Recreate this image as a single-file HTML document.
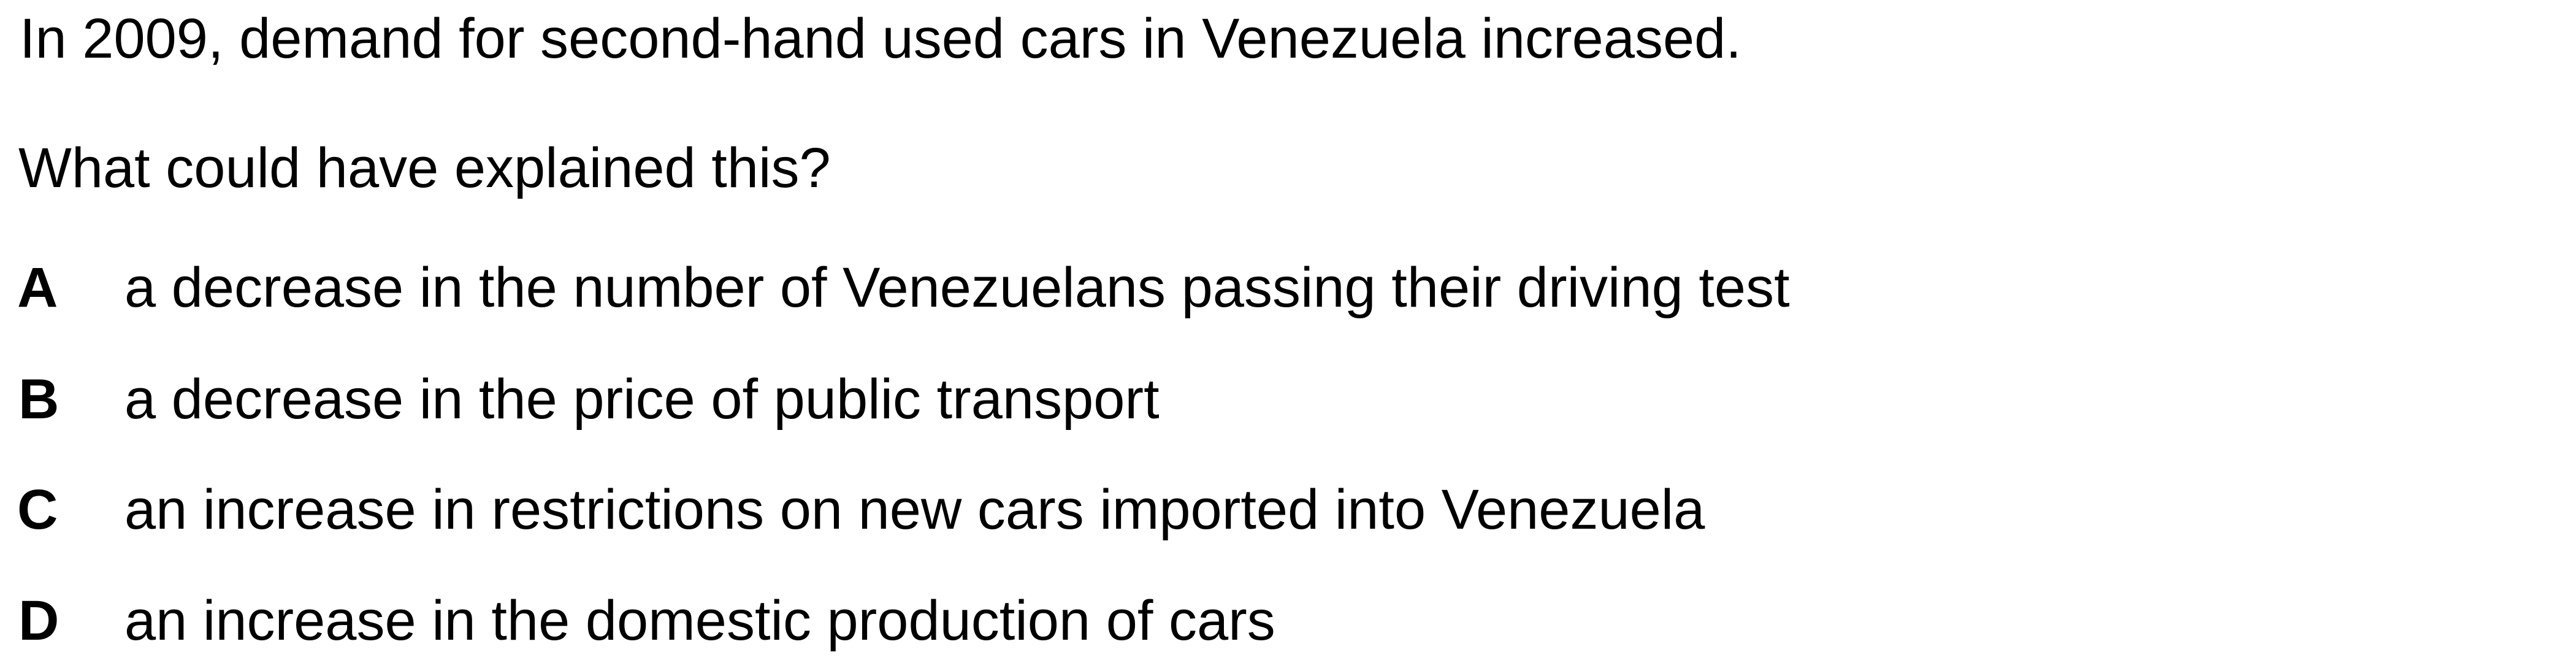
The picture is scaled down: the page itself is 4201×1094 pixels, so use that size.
<!DOCTYPE html>
<html>
<head>
<meta charset="utf-8">
<style>
html,body{margin:0;padding:0;background:#fff;}
body{width:4201px;height:1089px;overflow:hidden;}
svg text{font-family:"Liberation Sans",Arial,sans-serif;font-size:92px;fill:#000;}
.b{font-weight:bold;}
</style>
</head>
<body>
<svg width="4201" height="1089" viewBox="0 0 4201 1089" xmlns="http://www.w3.org/2000/svg">
<rect width="4201" height="1089" fill="#fff"/>
<text x="32" y="94">In 2009, demand for second-hand used cars in Venezuela increased.</text>
<text x="30" y="305">What could have explained this?</text>
<g>
<text class="b" x="28" y="500">A</text>
<text x="203" y="500">a decrease in the number of Venezuelans passing their driving test</text>
</g>
<g>
<text class="b" x="30" y="682">B</text>
<text x="203" y="682">a decrease in the price of public transport</text>
</g>
<g>
<text class="b" x="28" y="862">C</text>
<text x="203" y="862">an increase in restrictions on new cars imported into Venezuela</text>
</g>
<g>
<text class="b" x="30" y="1043">D</text>
<text x="203" y="1043">an increase in the domestic production of cars</text>
</g>
</svg>
</body>
</html>
